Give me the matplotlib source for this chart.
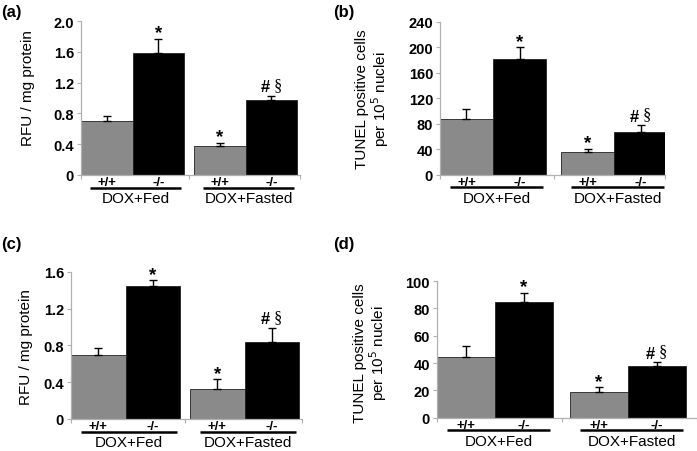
import matplotlib
matplotlib.use("Agg")
import matplotlib.pyplot as plt
import numpy as np

plt.rcParams['font.family'] = ['Liberation Sans', 'DejaVu Sans']

# ---- data ----
genotypes = ["+/+", "-/-"]
groups = ["DOX+Fed", "DOX+Fasted"]

a_means = [0.70, 1.59, 0.38, 0.97]
a_errs = [0.06, 0.18, 0.04, 0.06]
b_means = [88, 182, 36, 67]
b_errs = [15, 18, 5, 11]
c_means = [0.69, 1.44, 0.33, 0.84]
c_errs = [0.08, 0.07, 0.10, 0.15]
d_means = [44.5, 84.5, 18.5, 37.5]
d_errs = [8, 7, 4, 3]

a_ticks = [0, 0.4, 0.8, 1.2, 1.6, 2.0]
a_ticklabels = ["0", "0.4", "0.8", "1.2", "1.6", "2.0"]
b_ticks = [0, 40, 80, 120, 160, 200, 240]
c_ticks = [0, 0.4, 0.8, 1.2, 1.6]
c_ticklabels = ["0", "0.4", "0.8", "1.2", "1.6"]
d_ticks = [0, 20, 40, 60, 80, 100]

annots = ["", "*", "*", "#§"]

rfu_label = "RFU / mg protein"
tunel_label = "TUNEL positive cells\nper 10$^5$ nuclei"

W, H = 697, 452
fig = plt.figure(figsize=(W / 100, H / 100), dpi=100)
GRAY = "#8a8a8a"
AX_COL = "#b0b0b0"


def panel(letter, letter_xy, rect, means, errs, ticks, ticklabels, ylabel,
          ylabel_xy, bw, gap):
    left, top, right, bottom = rect
    ax = fig.add_axes([left / W, 1 - bottom / H, (right - left) / W, (bottom - top) / H])
    width_px = right - left
    height_px = bottom - top
    ymax = ticks[-1]
    lefts = [0, bw, 2 * bw + gap, 3 * bw + gap]
    colors = [GRAY, "black", GRAY, "black"]
    for i in range(4):
        ax.bar(lefts[i], means[i], width=bw, align="edge", color=colors[i],
               edgecolor="#222222", linewidth=0.6, zorder=2)
        cx = lefts[i] + bw / 2
        ax.errorbar(cx, means[i], yerr=[[0], [errs[i]]], fmt="none",
                    ecolor="black", elinewidth=1.0, capsize=3, capthick=1.0, zorder=3)
        top_v = means[i] + errs[i]
        s = annots[i]
        if s == "*":
            ax.annotate("*", (cx, top_v), xytext=(0, -2), textcoords="offset points",
                        ha="center", va="bottom", fontsize=13.5, fontweight="bold")
        elif s == "#§":
            ax.annotate("#", (cx, top_v), xytext=(-4.5, 1), textcoords="offset points",
                        ha="center", va="bottom", fontsize=12, fontweight="bold")
            ax.annotate("§", (cx, top_v), xytext=(4.5, 2), textcoords="offset points",
                        ha="center", va="bottom", fontsize=12,
                        family=["Liberation Serif", "DejaVu Serif"])
    ax.set_xlim(0, width_px)
    ax.set_ylim(0, ymax)
    ax.set_yticks(ticks)
    ax.set_yticklabels(ticklabels, fontsize=10.5, fontweight="bold")
    ax.set_xticks([0, 2 * bw + gap / 2, width_px])
    ax.set_xticklabels([])
    ax.tick_params(axis="both", direction="out", length=3, color=AX_COL, width=0.8, pad=2)
    for sp in ["top", "right"]:
        ax.spines[sp].set_visible(False)
    for sp in ["left", "bottom"]:
        ax.spines[sp].set_color(AX_COL)
        ax.spines[sp].set_linewidth(0.9)
    ax.set_ylabel(ylabel, fontsize=11, linespacing=1.0)
    ax.yaxis.set_label_coords((ylabel_xy[0] - left) / width_px,
                              (bottom - ylabel_xy[1]) / height_px)
    # genotype labels, group lines, group names
    tr = ax.get_xaxis_transform()
    fy = lambda px: -px / height_px
    for i in range(4):
        cx = lefts[i] + bw / 2
        ax.text(cx, fy(7), genotypes[i % 2], transform=tr, ha="center", va="center",
                fontsize=9.5, fontweight="bold")
    for g in range(2):
        x0 = lefts[2 * g] + bw * 0.18
        x1 = lefts[2 * g + 1] + bw * 0.95
        ax.plot([x0, x1], [fy(12.5), fy(12.5)], transform=tr, color="black",
                linewidth=1.8, clip_on=False, solid_capstyle="butt")
        ax.text((x0 + x1) / 2, fy(23.5), groups[g], transform=tr, ha="center",
                va="center", fontsize=11)
    fig.text(letter_xy[0] / W, 1 - letter_xy[1] / H, letter, fontsize=12,
             fontweight="bold", ha="left", va="center")
    return ax


panel("(a)", (1, 12), (81, 22, 300, 176), a_means, a_errs, a_ticks, a_ticklabels,
      rfu_label, (35, 88), 51.5, 10)
panel("(b)", (333, 12), (440, 22.7, 665, 175.7), b_means, b_errs, b_ticks,
      [str(t) for t in b_ticks], tunel_label, (391, 99), 53, 15)
panel("(c)", (1, 245), (71, 272.7, 302, 420), c_means, c_errs, c_ticks, c_ticklabels,
      rfu_label, (33, 347), 54.5, 10)
panel("(d)", (333, 245), (437, 282, 697, 418.7), d_means, d_errs, d_ticks,
      [str(t) for t in d_ticks], tunel_label, (389, 353), 58, 17)

fig.savefig("out.png", dpi=100)
